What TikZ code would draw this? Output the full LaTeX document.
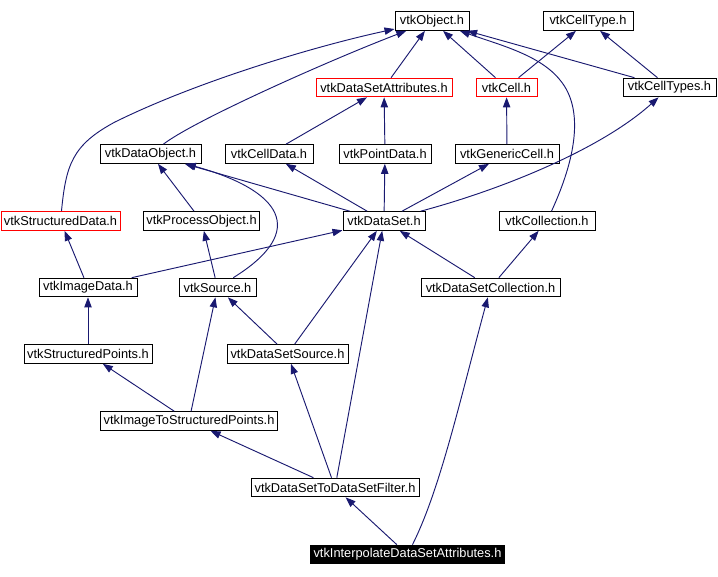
\documentclass[tikz,border=0pt]{standalone}
\usepackage{fontspec}
\setmainfont{Liberation Sans}
\usetikzlibrary{arrows.meta}
\definecolor{edgeblue}{RGB}{25,25,112}

\begin{document}
\begin{tikzpicture}[x=0.75pt, y=-0.75pt,
  hdr/.style={draw=black, fill=white, line width=0.75pt, minimum height=14pt,
    inner xsep=2pt, inner ysep=0pt, font=\fontsize{9.6}{11}\selectfont},
  redhdr/.style={hdr, draw=red},
  mainhdr/.style={hdr, fill=black, text=white},
  wd/.style={minimum width=#1*0.75pt},
  dep/.style={-{Triangle[length=7.5pt, width=5.5pt]}, edgeblue, line width=0.7pt}]

  \useasboundingbox (0,0) rectangle (718,576);

  % -- Row 1 --
  \node[hdr, wd=74] (object) at (432,21) {vtkObject.h};
  \node[hdr, wd=90] (celltype) at (588,21) {vtkCellType.h};

  % -- Row 2 --
  \node[redhdr, wd=136] (dsattr) at (384,87.5) {vtkDataSetAttributes.h};
  \node[redhdr, wd=61] (cell) at (506.5,87.5) {vtkCell.h};
  \node[hdr, wd=93] (celltypes) at (669.5,87.5) {vtkCellTypes.h};

  % -- Row 3 --
  \node[hdr, wd=101] (dataobject) at (150.5,154) {vtkDataObject.h};
  \node[hdr, wd=88] (celldata) at (269,154) {vtkCellData.h};
  \node[hdr, wd=92] (pointdata) at (385,154) {vtkPointData.h};
  \node[hdr, wd=104] (genericcell) at (507,154) {vtkGenericCell.h};

  % -- Row 4 --
  \node[redhdr, wd=119] (sdata) at (60.5,221) {vtkStructuredData.h};
  \node[hdr, wd=115] (procobject) at (201.5,221) {vtkProcessObject.h};
  \node[hdr, wd=82] (dataset) at (384,221) {vtkDataSet.h};
  \node[hdr, wd=96] (collection) at (547,221) {vtkCollection.h};

  % -- Row 5 --
  \node[hdr, wd=98] (imagedata) at (88,287.5) {vtkImageData.h};
  \node[hdr, wd=77] (source) at (217.5,287.5) {vtkSource.h};
  \node[hdr, wd=139] (dscoll) at (490.5,287.5) {vtkDataSetCollection.h};

  % -- Row 6 --
  \node[hdr, wd=128] (spoints) at (88,354) {vtkStructuredPoints.h};
  \node[hdr, wd=121] (dssource) at (287.5,354) {vtkDataSetSource.h};

  % -- Row 7 to 9 --
  \node[hdr, wd=176] (imgtosp) at (189,421) {vtkImageToStructuredPoints.h};
  \node[hdr, wd=168] (filter) at (335,487.5) {vtkDataSetToDataSetFilter.h};
  \node[mainhdr, wd=193] (interp) at (407.5,554.5) {vtkInterpolateDataSetAttributes.h};

  % -- Into vtkObject.h --
  \draw[dep] (dsattr) -- (object);
  \draw[dep] (cell) -- (object);
  \draw[dep] (celltypes) -- (object);
  \draw[dep] (dataobject) .. controls (195,120) and (330,60) .. (object);
  \draw[dep] (sdata) .. controls (66,165) and (72,145) .. (115,122)
    .. controls (200,80) and (320,45) .. (object);
  \draw[dep] (collection) .. controls (575,160) and (585,110) .. (560,80)
    .. controls (540,55) and (500,45) .. (object);

  % -- Into vtkCellType.h --
  \draw[dep] (cell) -- (celltype);
  \draw[dep] (celltypes) -- (celltype);

  % -- Row 3 to row 2 --
  \draw[dep] (celldata) -- (dsattr);
  \draw[dep] (pointdata) -- (dsattr);
  \draw[dep] (genericcell) -- (cell);

  % -- From vtkDataSet.h --
  \draw[dep] (dataset) -- (dataobject);
  \draw[dep] (dataset) -- (celldata);
  \draw[dep] (dataset) -- (pointdata);
  \draw[dep] (dataset) -- (genericcell);
  \draw[dep] (dataset) .. controls (500,190) and (600,150) .. (celltypes);

  % -- Sources --
  \draw[dep] (procobject) -- (dataobject);
  \draw[dep] (source) .. controls (310,230) and (280,190) .. (dataobject);
  \draw[dep] (source) -- (procobject);

  % -- Row 5 --
  \draw[dep] (imagedata) -- (sdata);
  \draw[dep] (imagedata) -- (dataset);
  \draw[dep] (dscoll) -- (dataset);
  \draw[dep] (dscoll) -- (collection);

  % -- Row 6 --
  \draw[dep] (spoints) -- (imagedata);
  \draw[dep] (dssource) -- (source);
  \draw[dep] (dssource) -- (dataset);

  % -- Row 7 --
  \draw[dep] (imgtosp) -- (spoints);
  \draw[dep] (imgtosp) -- (source);

  % -- Filter --
  \draw[dep] (filter) -- (imgtosp);
  \draw[dep] (filter) -- (dssource);
  \draw[dep] (filter) -- (dataset);

  % -- Main file --
  \draw[dep] (interp) -- (filter);
  \draw[dep] (interp) .. controls (440,490) and (460,400) .. (dscoll);

\end{tikzpicture}
\end{document}
